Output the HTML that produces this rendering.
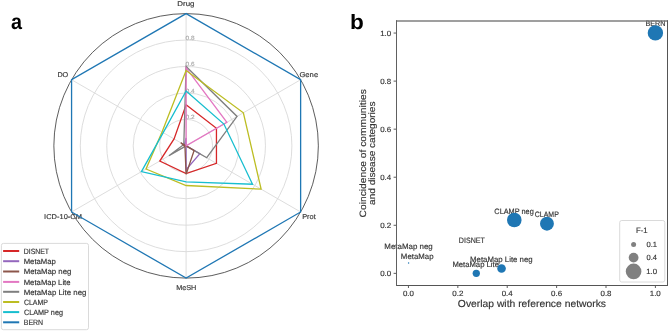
<!DOCTYPE html><html><head><meta charset="utf-8"><style>html,body{margin:0;padding:0;background:#fff;width:669px;height:331px;overflow:hidden}svg{display:block;will-change:transform}text{font-family:"Liberation Sans",sans-serif;text-rendering:geometricPrecision}</style></head><body>
<svg width="669" height="331" viewBox="0 0 669 331">
<rect width="669" height="331" fill="#fff"/>
<text x="10.91" y="29.00" font-size="21.6" font-weight="bold" fill="#000" stroke="#000" stroke-width="0" textLength="11.02" lengthAdjust="spacingAndGlyphs">a</text>
<text x="350.12" y="29.00" font-size="20.8" font-weight="bold" fill="#000" stroke="#000" stroke-width="0" textLength="13.81" lengthAdjust="spacingAndGlyphs">b</text>
<circle cx="186.1" cy="145.85" r="26.45" fill="none" stroke="#d9d9d9" stroke-width="0.9"/>
<circle cx="186.1" cy="145.85" r="52.90" fill="none" stroke="#d9d9d9" stroke-width="0.9"/>
<circle cx="186.1" cy="145.85" r="79.35" fill="none" stroke="#d9d9d9" stroke-width="0.9"/>
<circle cx="186.1" cy="145.85" r="105.80" fill="none" stroke="#d9d9d9" stroke-width="0.9"/>
<line x1="186.1" y1="145.85" x2="186.10" y2="13.60" stroke="#d9d9d9" stroke-width="0.9"/>
<line x1="186.1" y1="145.85" x2="300.63" y2="79.72" stroke="#d9d9d9" stroke-width="0.9"/>
<line x1="186.1" y1="145.85" x2="300.63" y2="211.97" stroke="#d9d9d9" stroke-width="0.9"/>
<line x1="186.1" y1="145.85" x2="186.10" y2="278.10" stroke="#d9d9d9" stroke-width="0.9"/>
<line x1="186.1" y1="145.85" x2="71.57" y2="211.97" stroke="#d9d9d9" stroke-width="0.9"/>
<line x1="186.1" y1="145.85" x2="71.57" y2="79.72" stroke="#d9d9d9" stroke-width="0.9"/>
<text x="177.37" y="6.00" font-size="7.1" font-weight="normal" fill="#333" stroke="#333" stroke-width="0.15" textLength="17.17" lengthAdjust="spacingAndGlyphs">Drug</text>
<text x="299.42" y="77.00" font-size="7.1" font-weight="normal" fill="#333" stroke="#333" stroke-width="0.15" textLength="18.74" lengthAdjust="spacingAndGlyphs">Gene</text>
<text x="302.21" y="219.00" font-size="7.1" font-weight="normal" fill="#333" stroke="#333" stroke-width="0.15" textLength="13.52" lengthAdjust="spacingAndGlyphs">Prot</text>
<text x="176.22" y="290.00" font-size="7.1" font-weight="normal" fill="#333" stroke="#333" stroke-width="0.15" textLength="20.15" lengthAdjust="spacingAndGlyphs">MeSH</text>
<text x="44.13" y="219.00" font-size="7.1" font-weight="normal" fill="#333" stroke="#333" stroke-width="0.15" textLength="37.81" lengthAdjust="spacingAndGlyphs">ICD-10-CM</text>
<text x="57.42" y="77.00" font-size="7.1" font-weight="normal" fill="#333" stroke="#333" stroke-width="0.15" textLength="10.84" lengthAdjust="spacingAndGlyphs">DO</text>
<text x="185.64" y="119.00" font-size="6.0" font-weight="normal" fill="#aaa" stroke="#aaa" stroke-width="0.15" textLength="8.98" lengthAdjust="spacingAndGlyphs">0.2</text>
<text x="185.65" y="93.00" font-size="6.0" font-weight="normal" fill="#aaa" stroke="#aaa" stroke-width="0.15" textLength="8.85" lengthAdjust="spacingAndGlyphs">0.4</text>
<text x="185.64" y="66.00" font-size="6.0" font-weight="normal" fill="#aaa" stroke="#aaa" stroke-width="0.15" textLength="8.91" lengthAdjust="spacingAndGlyphs">0.6</text>
<text x="185.64" y="40.00" font-size="6.0" font-weight="normal" fill="#aaa" stroke="#aaa" stroke-width="0.15" textLength="8.91" lengthAdjust="spacingAndGlyphs">0.8</text>
<circle cx="186.1" cy="145.85" r="132.25" fill="none" stroke="#333" stroke-width="0.8"/>
<polygon points="186.10,104.85 216.45,128.33 216.45,163.37 186.10,173.62 159.76,161.06 174.07,138.91" fill="none" stroke="#d62728" stroke-width="1.3" stroke-linejoin="miter"/>
<polygon points="186.10,137.91 186.10,145.85 199.84,153.78 186.10,169.66 186.10,145.85 184.38,144.86" fill="none" stroke="#9467bd" stroke-width="1.3" stroke-linejoin="miter"/>
<polygon points="186.10,66.50 237.07,116.42 206.72,157.75 186.10,145.85 168.92,155.77 183.81,144.53" fill="none" stroke="#7f7f7f" stroke-width="1.3" stroke-linejoin="miter"/>
<polygon points="186.10,145.85 186.10,145.85 194.12,150.48 186.10,174.28 184.95,146.51 180.72,142.74" fill="none" stroke="#8c564b" stroke-width="1.3" stroke-linejoin="miter"/>
<polygon points="186.10,67.82 226.87,122.31 186.10,145.85 186.10,145.85 186.10,145.85 186.10,145.85" fill="none" stroke="#e377c2" stroke-width="1.3" stroke-linejoin="miter"/>
<polygon points="186.10,70.47 243.37,112.79 261.12,189.16 186.10,185.52 146.01,168.99 162.05,131.96" fill="none" stroke="#bcbd22" stroke-width="1.3" stroke-linejoin="miter"/>
<polygon points="186.10,90.97 223.90,124.03 252.53,184.20 186.10,181.95 141.43,171.64 163.19,132.62" fill="none" stroke="#17becf" stroke-width="1.3" stroke-linejoin="miter"/>
<polygon points="186.10,13.60 300.63,79.72 300.63,211.97 186.10,278.10 71.57,211.97 71.57,79.72" fill="none" stroke="#1f77b4" stroke-width="1.3" stroke-linejoin="miter"/>
<rect x="1.4" y="243.4" width="87.1" height="86.3" rx="2" fill="#fff" fill-opacity="0.8" stroke="#d0d0d0" stroke-width="0.8"/>
<line x1="3.1" y1="251.00" x2="19.2" y2="251.00" stroke="#d62728" stroke-width="2.0"/>
<line x1="3.1" y1="261.20" x2="19.2" y2="261.20" stroke="#9467bd" stroke-width="2.0"/>
<line x1="3.1" y1="271.50" x2="19.2" y2="271.50" stroke="#8c564b" stroke-width="2.0"/>
<line x1="3.1" y1="281.90" x2="19.2" y2="281.90" stroke="#e377c2" stroke-width="2.0"/>
<line x1="3.1" y1="291.80" x2="19.2" y2="291.80" stroke="#7f7f7f" stroke-width="2.0"/>
<line x1="3.1" y1="302.00" x2="19.2" y2="302.00" stroke="#bcbd22" stroke-width="2.0"/>
<line x1="3.1" y1="312.10" x2="19.2" y2="312.10" stroke="#17becf" stroke-width="2.0"/>
<line x1="3.1" y1="322.30" x2="19.2" y2="322.30" stroke="#1f77b4" stroke-width="2.0"/>
<text x="23.75" y="254.00" font-size="7.7" font-weight="normal" fill="#333" stroke="#333" stroke-width="0.15" textLength="25.34" lengthAdjust="spacingAndGlyphs">DISNET</text>
<text x="23.68" y="264.00" font-size="7.7" font-weight="normal" fill="#333" stroke="#333" stroke-width="0.15" textLength="32.22" lengthAdjust="spacingAndGlyphs">MetaMap</text>
<text x="23.68" y="274.00" font-size="7.7" font-weight="normal" fill="#333" stroke="#333" stroke-width="0.15" textLength="47.73" lengthAdjust="spacingAndGlyphs">MetaMap neg</text>
<text x="23.68" y="285.00" font-size="7.7" font-weight="normal" fill="#333" stroke="#333" stroke-width="0.15" textLength="46.90" lengthAdjust="spacingAndGlyphs">MetaMap Lite</text>
<text x="23.67" y="295.00" font-size="7.7" font-weight="normal" fill="#333" stroke="#333" stroke-width="0.15" textLength="62.74" lengthAdjust="spacingAndGlyphs">MetaMap Lite neg</text>
<text x="23.95" y="305.00" font-size="7.7" font-weight="normal" fill="#333" stroke="#333" stroke-width="0.15" textLength="24.03" lengthAdjust="spacingAndGlyphs">CLAMP</text>
<text x="23.94" y="315.00" font-size="7.7" font-weight="normal" fill="#333" stroke="#333" stroke-width="0.15" textLength="39.02" lengthAdjust="spacingAndGlyphs">CLAMP neg</text>
<text x="23.74" y="325.00" font-size="7.7" font-weight="normal" fill="#333" stroke="#333" stroke-width="0.15" textLength="19.41" lengthAdjust="spacingAndGlyphs">BERN</text>
<line x1="408.45" y1="285.5" x2="408.45" y2="288" stroke="#333" stroke-width="0.8"/>
<line x1="393.6" y1="273.35" x2="396.5" y2="273.35" stroke="#333" stroke-width="0.8"/>
<line x1="457.84" y1="285.5" x2="457.84" y2="288" stroke="#333" stroke-width="0.8"/>
<line x1="393.6" y1="225.29" x2="396.5" y2="225.29" stroke="#333" stroke-width="0.8"/>
<line x1="507.23" y1="285.5" x2="507.23" y2="288" stroke="#333" stroke-width="0.8"/>
<line x1="393.6" y1="177.23" x2="396.5" y2="177.23" stroke="#333" stroke-width="0.8"/>
<line x1="556.62" y1="285.5" x2="556.62" y2="288" stroke="#333" stroke-width="0.8"/>
<line x1="393.6" y1="129.17" x2="396.5" y2="129.17" stroke="#333" stroke-width="0.8"/>
<line x1="606.01" y1="285.5" x2="606.01" y2="288" stroke="#333" stroke-width="0.8"/>
<line x1="393.6" y1="81.11" x2="396.5" y2="81.11" stroke="#333" stroke-width="0.8"/>
<line x1="655.40" y1="285.5" x2="655.40" y2="288" stroke="#333" stroke-width="0.8"/>
<line x1="393.6" y1="33.05" x2="396.5" y2="33.05" stroke="#333" stroke-width="0.8"/>
<text x="380.18" y="276.00" font-size="7.6" font-weight="normal" fill="#333" stroke="#333" stroke-width="0.15" textLength="11.04" lengthAdjust="spacingAndGlyphs">0.0</text>
<text x="402.93" y="296.00" font-size="7.6" font-weight="normal" fill="#333" stroke="#333" stroke-width="0.15" textLength="11.04" lengthAdjust="spacingAndGlyphs">0.0</text>
<text x="380.18" y="228.00" font-size="7.6" font-weight="normal" fill="#333" stroke="#333" stroke-width="0.15" textLength="11.12" lengthAdjust="spacingAndGlyphs">0.2</text>
<text x="452.32" y="296.00" font-size="7.6" font-weight="normal" fill="#333" stroke="#333" stroke-width="0.15" textLength="11.12" lengthAdjust="spacingAndGlyphs">0.2</text>
<text x="380.18" y="180.00" font-size="7.6" font-weight="normal" fill="#333" stroke="#333" stroke-width="0.15" textLength="10.95" lengthAdjust="spacingAndGlyphs">0.4</text>
<text x="501.71" y="296.00" font-size="7.6" font-weight="normal" fill="#333" stroke="#333" stroke-width="0.15" textLength="10.95" lengthAdjust="spacingAndGlyphs">0.4</text>
<text x="380.18" y="132.00" font-size="7.6" font-weight="normal" fill="#333" stroke="#333" stroke-width="0.15" textLength="11.04" lengthAdjust="spacingAndGlyphs">0.6</text>
<text x="551.10" y="296.00" font-size="7.6" font-weight="normal" fill="#333" stroke="#333" stroke-width="0.15" textLength="11.04" lengthAdjust="spacingAndGlyphs">0.6</text>
<text x="380.18" y="84.00" font-size="7.6" font-weight="normal" fill="#333" stroke="#333" stroke-width="0.15" textLength="11.04" lengthAdjust="spacingAndGlyphs">0.8</text>
<text x="600.49" y="296.00" font-size="7.6" font-weight="normal" fill="#333" stroke="#333" stroke-width="0.15" textLength="11.04" lengthAdjust="spacingAndGlyphs">0.8</text>
<text x="380.16" y="36.00" font-size="7.6" font-weight="normal" fill="#333" stroke="#333" stroke-width="0.15" textLength="11.06" lengthAdjust="spacingAndGlyphs">1.0</text>
<text x="649.71" y="296.00" font-size="7.6" font-weight="normal" fill="#333" stroke="#333" stroke-width="0.15" textLength="11.06" lengthAdjust="spacingAndGlyphs">1.0</text>
<text x="457.88" y="307.00" font-size="10.2" font-weight="normal" fill="#333" stroke="#333" stroke-width="0.15" textLength="148.12" lengthAdjust="spacingAndGlyphs">Overlap with reference networks</text>
<text transform="translate(365.90,217.41) rotate(-90)" font-size="9.2" font-weight="normal" fill="#333" stroke="#333" stroke-width="0.15" textLength="128.18" lengthAdjust="spacingAndGlyphs">Coincidence of communities</text>
<text transform="translate(375.10,204.90) rotate(-90)" font-size="9.2" font-weight="normal" fill="#333" stroke="#333" stroke-width="0.15" textLength="103.35" lengthAdjust="spacingAndGlyphs">and disease categories</text>
<text x="645.53" y="26.00" font-size="7.75" font-weight="normal" fill="#333" stroke="#333" stroke-width="0.15" textLength="19.94" lengthAdjust="spacingAndGlyphs">BERN</text>
<text x="494.33" y="214.00" font-size="7.75" font-weight="normal" fill="#333" stroke="#333" stroke-width="0.15" textLength="39.43" lengthAdjust="spacingAndGlyphs">CLAMP neg</text>
<text x="534.75" y="217.00" font-size="7.75" font-weight="normal" fill="#333" stroke="#333" stroke-width="0.15" textLength="24.03" lengthAdjust="spacingAndGlyphs">CLAMP</text>
<text x="458.83" y="243.00" font-size="7.75" font-weight="normal" fill="#333" stroke="#333" stroke-width="0.15" textLength="25.96" lengthAdjust="spacingAndGlyphs">DISNET</text>
<text x="384.37" y="249.00" font-size="7.75" font-weight="normal" fill="#333" stroke="#333" stroke-width="0.15" textLength="48.35" lengthAdjust="spacingAndGlyphs">MetaMap neg</text>
<text x="400.87" y="259.00" font-size="7.75" font-weight="normal" fill="#333" stroke="#333" stroke-width="0.15" textLength="32.63" lengthAdjust="spacingAndGlyphs">MetaMap</text>
<text x="470.08" y="262.00" font-size="7.75" font-weight="normal" fill="#333" stroke="#333" stroke-width="0.15" textLength="62.53" lengthAdjust="spacingAndGlyphs">MetaMap Lite neg</text>
<text x="452.38" y="267.00" font-size="7.75" font-weight="normal" fill="#333" stroke="#333" stroke-width="0.15" textLength="46.59" lengthAdjust="spacingAndGlyphs">MetaMap Lite</text>
<circle cx="655.4" cy="32.9" r="7.7" fill="#1f77b4"/>
<circle cx="514.3" cy="220.0" r="7.3" fill="#1f77b4"/>
<circle cx="546.95" cy="223.7" r="6.95" fill="#1f77b4"/>
<circle cx="476.3" cy="273.3" r="3.65" fill="#1f77b4"/>
<circle cx="501.55" cy="268.5" r="4.3" fill="#1f77b4"/>
<circle cx="408.6" cy="263" r="0.7" fill="#1f77b4"/>
<rect x="396" y="20.3" width="272" height="1.4" fill="#777"/>
<rect x="396" y="285" width="272" height="1.0" fill="#555"/>
<rect x="396" y="20.3" width="1.0" height="265.7" fill="#606060"/>
<rect x="667" y="20.3" width="1.0" height="265.7" fill="#555"/>
<rect x="619.7" y="220.5" width="45.1" height="61.5" rx="2" fill="#fff" fill-opacity="0.8" stroke="#d0d0d0" stroke-width="0.8"/>
<text x="635.98" y="233.00" font-size="7.75" font-weight="normal" fill="#333" stroke="#333" stroke-width="0.15" textLength="11.61" lengthAdjust="spacingAndGlyphs">F-1</text>
<circle cx="633.6" cy="244.5" r="2.5" fill="#808080"/>
<circle cx="633.6" cy="257.6" r="4.9" fill="#808080"/>
<circle cx="633.6" cy="271.4" r="7.8" fill="#808080"/>
<text x="646.50" y="247.00" font-size="7.6" font-weight="normal" fill="#333" stroke="#333" stroke-width="0.15" textLength="10.59" lengthAdjust="spacingAndGlyphs">0.1</text>
<text x="646.50" y="260.00" font-size="7.6" font-weight="normal" fill="#333" stroke="#333" stroke-width="0.15" textLength="10.43" lengthAdjust="spacingAndGlyphs">0.4</text>
<text x="646.18" y="274.00" font-size="7.6" font-weight="normal" fill="#333" stroke="#333" stroke-width="0.15" textLength="10.84" lengthAdjust="spacingAndGlyphs">1.0</text>
</svg></body></html>
